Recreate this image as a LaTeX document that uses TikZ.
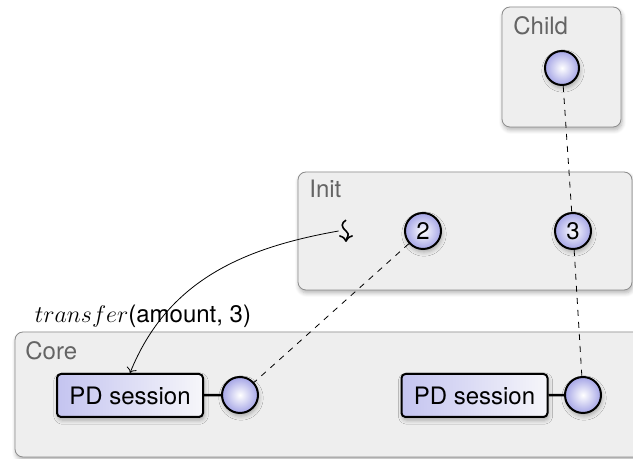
\documentclass[tikz,border=0pt]{standalone}
\usepackage{fontspec}
\setmainfont{TeX Gyre Heros}
\usepackage{tikz}
\usetikzlibrary{positioning}
\usetikzlibrary{arrows.meta}
\usetikzlibrary{shadows.blur}
\usetikzlibrary{fit}

\definecolor{boxgray}{RGB}{238,238,238}
\definecolor{framegray}{RGB}{140,140,140}
\definecolor{labelgray}{RGB}{100,100,100}
\definecolor{sessleft}{RGB}{196,196,240}
\definecolor{sessright}{RGB}{246,246,250}
\definecolor{capblue}{RGB}{165,165,230}

\begin{document}
\begin{tikzpicture}[x=0.5pt,y=-0.5pt,
% Compartment style
    compbox/.style={rectangle,draw=framegray,fill=boxgray,rounded corners=4pt,inner sep=0pt,
		blur shadow={shadow xshift=0.5pt,shadow yshift=-1.5pt,shadow blur steps=6,shadow opacity=30}},
    complabel/.style={anchor=base west,text=labelgray,inner sep=0pt},
% Session and capability style
    session/.style={rectangle,draw,line width=1pt,rounded corners=2pt,left color=sessleft,right color=sessright,
		minimum width=73pt,minimum height=21.5pt,inner sep=0pt,
		blur shadow={shadow xshift=0.5pt,shadow yshift=-1.5pt,shadow blur steps=4,shadow opacity=30}},
    capnode/.style={circle,draw,line width=1pt,inner sep=0pt,minimum size=18pt,inner color=white,outer color=capblue,
		blur shadow={shadow xshift=0.5pt,shadow yshift=-1.5pt,shadow blur steps=4,shadow opacity=30}},
    font={\fontsize{12pt}{14pt}\selectfont}
    ]
  \tikzstyle{link} = [line width=1.3pt]

  \useasboundingbox (0,0) rectangle (633,459);

  % compartments
  \coordinate (core1) at (15,332);
  \coordinate (core2) at (660,457);
  \coordinate (init1) at (298,172);
  \coordinate (init2) at (632,290);
  \coordinate (child1) at (502,7);
  \coordinate (child2) at (621,127);

  \node[compbox] (core) [fit = (core1) (core2)] {};
  \node[compbox] (init) [fit = (init1) (init2)] {};
  \node[compbox] (child) [fit = (child1) (child2)] {};

  \node (lcore) [complabel] at (25,360) {Core};
  \node (linit) [complabel] at (309,198) {Init};
  \node (lchild) [complabel] at (513,35) {Child};

  % sessions and capabilities
  \node (pd1) [session] at (130,395.5) {PD session};
  \node (pd2) [session] at (474.5,395.5) {PD session};
  \node (cp1) [capnode] at (240,395) {};
  \node (cp2) [capnode] at (583,395) {};
  \node (cc) [capnode,minimum size=17pt] at (562,68) {};
  \node (c2) [capnode] at (423,231) {2};
  \node (c3) [capnode] at (573,231) {3};

  \draw[link] (pd1) -- (cp1);
  \draw[link] (pd2) -- (cp2);

  \draw[dashed] (c2) -- (cp1);
  \draw[dashed] (cc) -- (c3);
  \draw[dashed] (c3) -- (cp2);

  % signal
  \node (sig) [inner sep=0pt,minimum width=7pt,minimum height=10.5pt] at (346,231) {};
  \draw[->,thick] (sig.north) .. controls +(-2.5pt,-1.5pt) and +(-2.5pt,2pt) .. (sig.center)
    .. controls +(2.5pt,-2pt) and +(0,2pt) .. (sig.south);

  \node (tr) at (143,316) {$transfer$(amount, 3)};
  \draw[->] (sig.west) to[out=190,in=68] (pd1.north);

\end{tikzpicture}
\end{document}
